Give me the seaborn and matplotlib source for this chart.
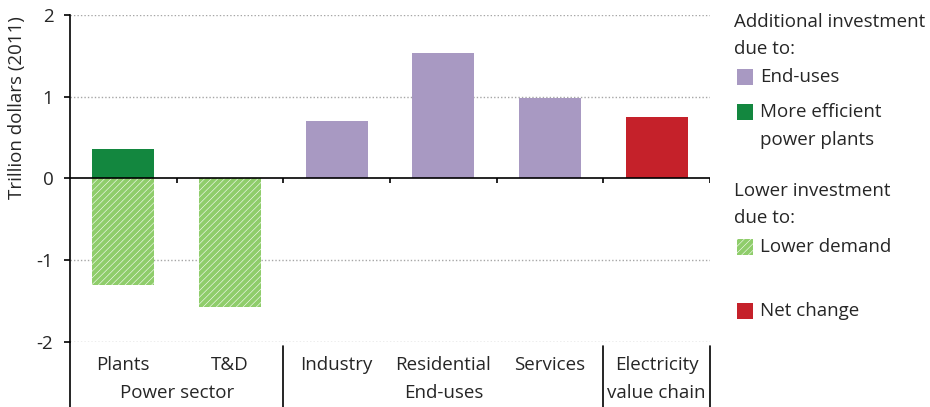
import pandas as pd
import numpy as np
import seaborn as sns
import matplotlib.pyplot as plt
from matplotlib.patches import Rectangle
import matplotlib.transforms as mtrans

#data
categories = ["Plants", "T&D", "Industry", "Residential", "Services", "Electricity"]
pos_cats = ["Plants", "Industry", "Residential", "Services", "Electricity"]
pos_vals = [0.36, 0.70, 1.53, 0.99, 0.75]
pos_kind = ["More efficient power plants", "End-uses", "End-uses", "End-uses", "Net change"]
neg_cats = ["Plants", "T&D"]
neg_vals = [-1.30, -1.57]
groups = ["Power sector", "End-uses", "value chain"]
group_pos = [0.5, 3.0, 5.0]
boundaries = [1.5, 4.5, 5.5]

colors = {"End-uses": "#a899c2", "More efficient power plants": "#13873f", "Net change": "#c5212a"}
hatch_green = "#8fcd6b"
fs = 13.5

sns.set_style("white")
plt.rcParams['font.family'] = ['Open Sans', 'DejaVu Sans']
plt.rcParams['hatch.linewidth'] = 3.0
plt.rcParams['hatch.color'] = hatch_green

fig = plt.figure(figsize=(9.3, 4.07), dpi=100)
ax = fig.add_axes([70/930, 1-342/407, 640/930, 327/407])

pos_df = pd.DataFrame({"cat": pos_cats, "val": pos_vals, "kind": pos_kind})
neg_df = pd.DataFrame({"cat": neg_cats, "val": neg_vals})

sns.barplot(data=pos_df, x="cat", y="val", hue="kind", palette=colors, order=categories,
            dodge=False, width=0.58, legend=False, ax=ax, saturation=1, linewidth=0)
n_before = len(ax.patches)
sns.barplot(data=neg_df, x="cat", y="val", order=categories, color="white",
            width=0.58, ax=ax, saturation=1, linewidth=0)
for p in ax.patches[n_before:]:
    p.set_hatch("/////")
    p.set_edgecolor(hatch_green)
    p.set_linewidth(0)

ax.set_xlim(-0.5, 5.5)
ax.set_ylim(-2, 2)

#gridlines
for g in [2, 1, -1, -2]:
    ax.axhline(g, color="#a6a6a6", linestyle=(0, (1, 1.5)), linewidth=1, zorder=0)
ax.axhline(0, color="black", linewidth=1.2, zorder=3)
ax.vlines([0.5, 1.5, 2.5, 3.5, 4.5, 5.5], 0, -0.05, color="black", linewidth=1.2, zorder=3)

for s in ["top", "right", "bottom"]:
    ax.spines[s].set_visible(False)
ax.spines["left"].set_color("black")
ax.spines["left"].set_linewidth(1.2)

ax.set_yticks([2, 1, 0, -1, -2])
ax.set_yticklabels(["2", "1", "0", "-1", "-2"])
ax.tick_params(axis="y", length=4, width=1.2, color="black", direction="out", pad=8, labelsize=fs, left=True)
ax.set_xticks(range(6))
ax.set_xticklabels(categories)
ax.tick_params(axis="x", length=0, pad=10, labelsize=fs)
ax.set_xlabel("")
ax.set_ylabel("Trillion dollars (2011)", fontsize=fs)
ax.yaxis.set_label_coords(-0.068, 0.716)

#group separators and labels
trans = mtrans.blended_transform_factory(ax.transData, ax.transAxes)
ax.plot([0, 0], [0, -0.2], transform=ax.transAxes, color="black", linewidth=1.2, clip_on=False)
for b in boundaries:
    ax.plot([b, b], [-0.012, -0.2], transform=trans, color="black", linewidth=1.2, clip_on=False)
for gx, gl in zip(group_pos, groups):
    ax.text(gx, -0.156, gl, transform=trans, ha="center", va="center", fontsize=fs)

#legend
lx = 734 / 930
def fy(py):
    return 1 - py / 407
fig.text(lx, fy(22), "Additional investment", va="center", fontsize=fs)
fig.text(lx, fy(49), "due to:", va="center", fontsize=fs)
fig.text(lx, fy(191), "Lower investment", va="center", fontsize=fs)
fig.text(lx, fy(218), "due to:", va="center", fontsize=fs)
items = [(77, "End-uses", colors["End-uses"], None),
         (112, "More efficient", colors["More efficient power plants"], None),
         (247, "Lower demand", "white", "/////"),
         (311, "Net change", colors["Net change"], None)]
for py, lab, c, h in items:
    r = Rectangle((737/930, fy(py + 8)), 16/930, 16/407, transform=fig.transFigure,
                  facecolor=c, edgecolor=hatch_green if h else c, linewidth=0, hatch=h)
    fig.patches.append(r)
    fig.text(760/930, fy(py), lab, va="center", fontsize=fs)
fig.text(760/930, fy(140), "power plants", va="center", fontsize=fs)

fig.savefig("out.png", dpi=100)
